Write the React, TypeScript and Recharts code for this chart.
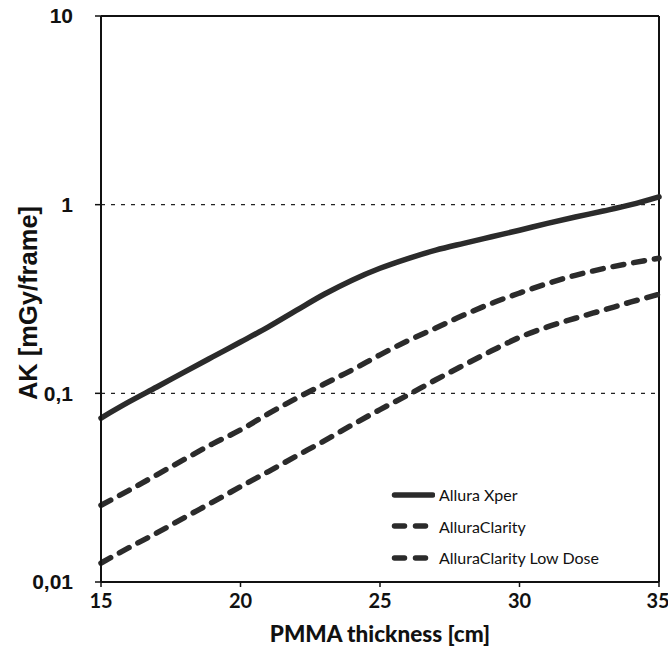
import { LineChart, Line, XAxis, YAxis, ReferenceLine, Legend } from "recharts";

// PMMA thickness in cm
const thickness = [15, 16, 17, 18, 19, 20, 21, 22, 23, 24, 25, 26, 27, 28, 29, 30, 31, 32, 33, 34, 35];

// AK in mGy/frame
const alluraXper = [0.074, 0.09, 0.108, 0.13, 0.156, 0.187, 0.225, 0.275, 0.335, 0.398, 0.46, 0.518, 0.574, 0.624, 0.676, 0.732, 0.796, 0.86, 0.925, 1.0, 1.1];
const alluraClarity = [0.0255, 0.0306, 0.037, 0.0448, 0.054, 0.064, 0.078, 0.094, 0.112, 0.133, 0.16, 0.19, 0.222, 0.26, 0.3, 0.34, 0.382, 0.422, 0.458, 0.49, 0.52];
const clarityLowDose = [0.0126, 0.0152, 0.0182, 0.022, 0.0265, 0.032, 0.0385, 0.0465, 0.056, 0.068, 0.082, 0.098, 0.118, 0.141, 0.168, 0.198, 0.225, 0.25, 0.276, 0.305, 0.335];

const xTicks = [15, 20, 25, 30, 35];
const yTicks = [0.01, 0.1, 1, 10];

const series = [
  { key: "xper", name: "Allura Xper", dash: undefined },
  { key: "clarity", name: "AlluraClarity", dash: "11 10" },
  { key: "low", name: "AlluraClarity Low Dose", dash: "11 10" },
];

const data = thickness.map((t, i) => ({
  t,
  xper: alluraXper[i],
  clarity: alluraClarity[i],
  low: clarityLowDose[i],
}));

const INK = "#2b2b2b";

const YTitle = ({ viewBox }: any) => {
  const cx = 28;
  const cy = viewBox.y + viewBox.height / 2 + 4;
  return (
    <text
      x={cx}
      y={cy}
      transform={`rotate(-90, ${cx}, ${cy})`}
      textAnchor="middle"
      dominantBaseline="central"
      style={{ fontFamily: "Liberation Sans, Arial", fontWeight: 700, fontSize: 25.5, fill: "#111" }}
    >
      AK [mGy/frame]
    </text>
  );
};

const LegendBox = () => (
  <div style={{ fontFamily: "Lato, sans-serif", fontSize: 16, color: "#111" }}>
    {series.map((s) => (
      <div key={s.key} style={{ display: "flex", alignItems: "center", height: 31.5 }}>
        <svg width={45} height={10} style={{ flex: "none" }}>
          <line
            x1={4.5}
            y1={5}
            x2={s.dash ? 35.5 : 42.5}
            y2={5}
            stroke={INK}
            strokeWidth={5.5}
            strokeLinecap="round"
            strokeDasharray={s.dash ? "10 11" : undefined}
          />
        </svg>
        <span style={{ marginLeft: 4, whiteSpace: "nowrap" }}>{s.name}</span>
      </div>
    ))}
  </div>
);

export default function App() {
  return (
    <div style={{ position: "absolute", left: 0, top: 0, background: "#fff" }}>
      <LineChart width={668} height={666} data={data} margin={{ top: 16, right: 9, left: 0, bottom: 0 }}>
        <XAxis
          dataKey="t"
          type="number"
          domain={[15, 35]}
          ticks={xTicks}
          height={84}
          axisLine={{ stroke: "#111", strokeWidth: 2 }}
          tickLine={{ stroke: "#111", strokeWidth: 1.5 }}
          tickSize={5}
          tickMargin={7}
          tick={{ fontFamily: "Lato, sans-serif", fontWeight: 700, fontSize: 20, fill: "#111" }}
          label={{
            value: "PMMA thickness [cm]",
            position: "insideBottom",
            offset: 24,
            style: { fontFamily: "Lato, sans-serif", fontWeight: 900, fontSize: 22.5, fill: "#111" },
          }}
        />
        <YAxis
          type="number"
          scale="log"
          domain={[0.01, 10]}
          allowDataOverflow
          ticks={yTicks}
          width={101}
          axisLine={{ stroke: "#111", strokeWidth: 2 }}
          tickLine={{ stroke: "#111", strokeWidth: 1.5 }}
          tickSize={6}
          tickMargin={22}
          tickFormatter={(v: number) => String(v).replace(".", ",")}
          tick={{ fontFamily: "Liberation Sans, Arial", fontWeight: 700, fontSize: 21, fill: "#111" }}
          label={<YTitle />}
        />
        <ReferenceLine y={1} stroke="#222" strokeWidth={1.2} strokeDasharray="4 6" />
        <ReferenceLine y={0.1} stroke="#222" strokeWidth={1.2} strokeDasharray="4 6" />
        <ReferenceLine y={10} stroke="#111" strokeWidth={2} />
        <ReferenceLine x={35} stroke="#111" strokeWidth={2} />
        {series.map((s) => (
          <Line
            key={s.key}
            dataKey={s.key}
            name={s.name}
            type="monotone"
            stroke={INK}
            strokeWidth={5.5}
            strokeLinecap="round"
            strokeDasharray={s.dash}
            dot={false}
            isAnimationActive={false}
          />
        ))}
        <Legend
          layout="vertical"
          align="center"
          verticalAlign="middle"
          wrapperStyle={{ left: 390, top: 479, width: 260 }}
          content={<LegendBox />}
        />
      </LineChart>
    </div>
  );
}
